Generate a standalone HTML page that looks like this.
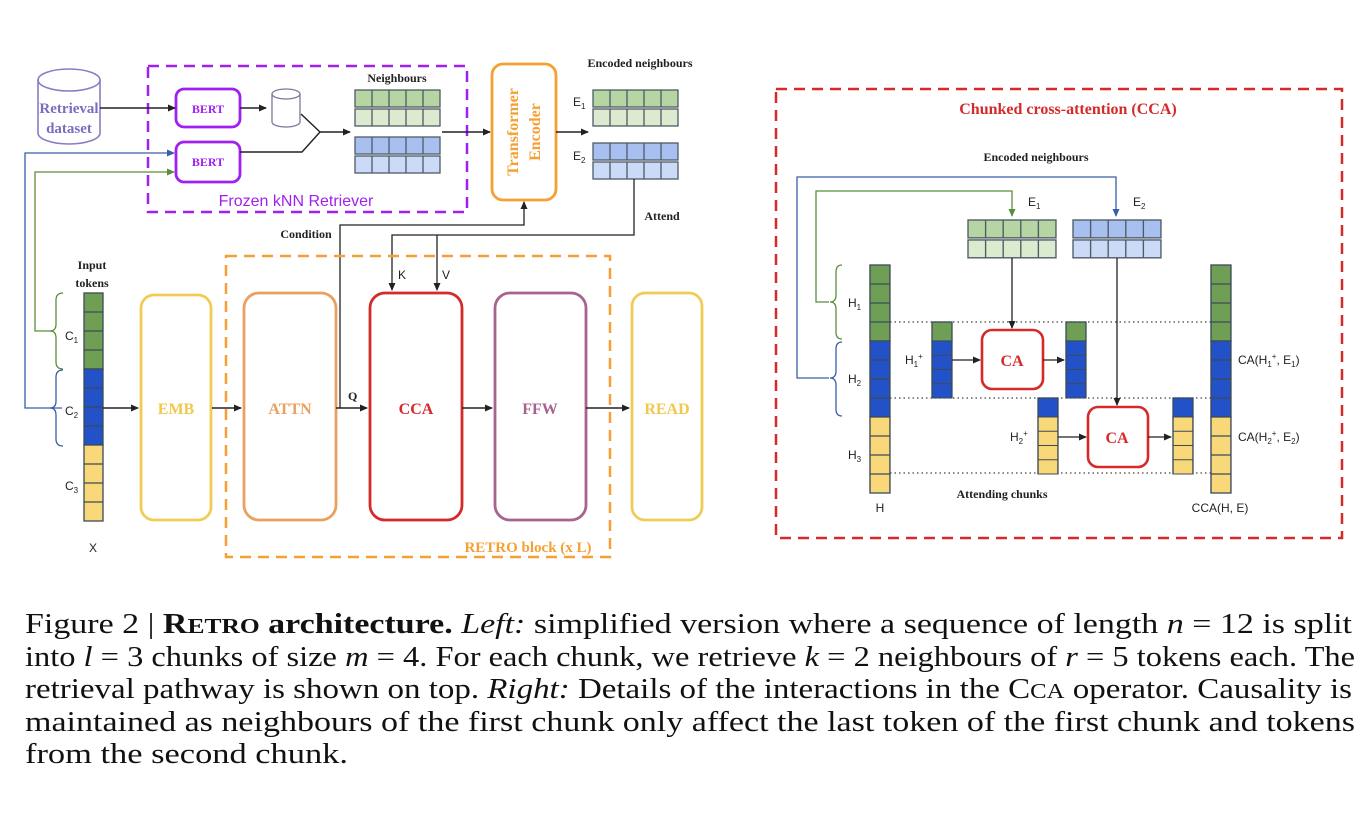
<!DOCTYPE html>
<html><head><meta charset="utf-8">
<style>
html,body{margin:0;padding:0;background:#fff;}
svg{display:block;}
.s{font-family:"Liberation Serif",serif;}
.a{font-family:"Liberation Sans",sans-serif;}
</style></head><body>
<svg width="1370" height="816" viewBox="0 0 1370 816" xmlns="http://www.w3.org/2000/svg">
<defs>
<marker id="ar" markerWidth="8" markerHeight="8" refX="7" refY="4" orient="auto" markerUnits="userSpaceOnUse"><path d="M0,0.5 L8,4 L0,7.5 z" fill="#222"/></marker>
<marker id="ab" markerWidth="8" markerHeight="8" refX="7" refY="4" orient="auto" markerUnits="userSpaceOnUse"><path d="M0,0.5 L8,4 L0,7.5 z" fill="#3a5fa8"/></marker>
<marker id="ag" markerWidth="8" markerHeight="8" refX="7" refY="4" orient="auto" markerUnits="userSpaceOnUse"><path d="M0,0.5 L8,4 L0,7.5 z" fill="#5a8f3a"/></marker>
<g id="gg">
<rect x="0" y="0" width="85" height="17" fill="#b7d4a3" stroke="#4e5a66" stroke-width="1.3"/>
<rect x="0" y="19" width="85" height="17" fill="#dceacf" stroke="#4e5a66" stroke-width="1.3"/>
<path d="M17,0V17M34,0V17M51,0V17M68,0V17M17,19V36M34,19V36M51,19V36M68,19V36" stroke="#4e5a66" stroke-width="1.3"/>
</g>
<g id="gb">
<rect x="0" y="0" width="85" height="17" fill="#a8c0ef" stroke="#4e5a66" stroke-width="1.3"/>
<rect x="0" y="19" width="85" height="17" fill="#cbdaf6" stroke="#4e5a66" stroke-width="1.3"/>
<path d="M17,0V17M34,0V17M51,0V17M68,0V17M17,19V36M34,19V36M51,19V36M68,19V36" stroke="#4e5a66" stroke-width="1.3"/>
</g>
<g id="cg"><rect x="0" y="0" width="19" height="76" fill="#6f9f55" stroke="#3c4a58" stroke-width="1.3"/><path d="M0,19H19M0,38H19M0,57H19" stroke="#3c4a58" stroke-width="1.3"/></g>
<g id="cb"><rect x="0" y="0" width="19" height="76" fill="#2352c8" stroke="#3c4a58" stroke-width="1.3"/><path d="M0,19H19M0,38H19M0,57H19" stroke="#3c4a58" stroke-width="1.3"/></g>
<g id="cy"><rect x="0" y="0" width="19" height="76" fill="#f8d878" stroke="#3c4a58" stroke-width="1.3"/><path d="M0,19H19M0,38H19M0,57H19" stroke="#3c4a58" stroke-width="1.3"/></g>
</defs>

<path d="M38,80 V133 A31,11 0 0 0 100,133 V80" fill="#fff" stroke="#8a7cc4" stroke-width="1.6"/>
<ellipse cx="69" cy="80" rx="31" ry="11" fill="#fff" stroke="#8a7cc4" stroke-width="1.6"/>
<text x="69" y="113" class="s" font-size="15" font-weight="bold" fill="#7a6cc0" text-anchor="middle">Retrieval</text>
<text x="69" y="133" class="s" font-size="15" font-weight="bold" fill="#7a6cc0" text-anchor="middle">dataset</text>

<rect x="148" y="66" width="319" height="146" fill="none" stroke="#a020f0" stroke-width="2.5" stroke-dasharray="11,7"/>
<rect x="176" y="89" width="64" height="38" rx="8" fill="#fff" stroke="#a020f0" stroke-width="2.8"/>
<rect x="176" y="142" width="64" height="40" rx="8" fill="#fff" stroke="#a020f0" stroke-width="2.8"/>
<text x="208" y="113" class="s" font-size="12" font-weight="bold" fill="#a020f0" text-anchor="middle">BERT</text>
<text x="208" y="166" class="s" font-size="12" font-weight="bold" fill="#a020f0" text-anchor="middle">BERT</text>
<text x="296" y="206" class="a" font-size="16" fill="#a020f0" text-anchor="middle">Frozen kNN Retriever</text>
<line x1="100" y1="108" x2="175" y2="108" stroke="#222" stroke-width="1.4" marker-end="url(#ar)"/>
<line x1="240" y1="108" x2="266" y2="108" stroke="#222" stroke-width="1.4" marker-end="url(#ar)"/>
<path d="M272,94 V122 A14,5 0 0 0 300,122 V94" fill="#fff" stroke="#7a7a9a" stroke-width="1.3"/>
<ellipse cx="286" cy="94" rx="14" ry="5" fill="#fff" stroke="#7a7a9a" stroke-width="1.3"/>
<path d="M301,114 L320,132 L302,152 L240,152" fill="none" stroke="#222" stroke-width="1.4"/>
<line x1="320" y1="132" x2="350" y2="132" stroke="#222" stroke-width="1.4" marker-end="url(#ar)"/>
<text x="397" y="82" class="s" font-size="12" font-weight="bold" fill="#222" text-anchor="middle">Neighbours</text>
<use href="#gg" x="355" y="90"/>
<use href="#gb" x="355" y="137"/>
<line x1="442" y1="132" x2="490" y2="132" stroke="#222" stroke-width="1.4" marker-end="url(#ar)"/>
<rect x="492" y="64" width="64" height="136" rx="11" fill="#fff" stroke="#f5a033" stroke-width="2.8"/>
<text transform="translate(518,132) rotate(-90)" class="s" font-size="16" font-weight="bold" fill="#f5a033" text-anchor="middle">Transformer</text>
<text transform="translate(540,132) rotate(-90)" class="s" font-size="16" font-weight="bold" fill="#f5a033" text-anchor="middle">Encoder</text>
<line x1="556" y1="132" x2="588" y2="132" stroke="#222" stroke-width="1.4" marker-end="url(#ar)"/>
<text x="640" y="67" class="s" font-size="12" font-weight="bold" fill="#222" text-anchor="middle">Encoded neighbours</text>
<text x="573" y="106" class="a" font-size="12" fill="#222">E<tspan font-size="8" dy="3">1</tspan></text>
<text x="573" y="160" class="a" font-size="12" fill="#222">E<tspan font-size="8" dy="3">2</tspan></text>
<use href="#gg" x="593" y="90"/>
<use href="#gb" x="593" y="143"/>
<path d="M634,179 V235 H392 V290" fill="none" stroke="#222" stroke-width="1.3" marker-end="url(#ar)"/>
<line x1="437" y1="235" x2="437" y2="290" stroke="#222" stroke-width="1.3" marker-end="url(#ar)"/>
<text x="662" y="220" class="s" font-size="12" font-weight="bold" fill="#222" text-anchor="middle">Attend</text>
<text x="398" y="279" class="a" font-size="12" fill="#222">K</text>
<text x="442" y="279" class="a" font-size="12" fill="#222">V</text>
<path d="M340,408 V225 H524 V202" fill="none" stroke="#222" stroke-width="1.3" marker-end="url(#ar)"/>
<text x="306" y="238" class="s" font-size="12" font-weight="bold" fill="#222" text-anchor="middle">Condition</text>
<text x="348" y="400" class="s" font-size="12" font-weight="bold" fill="#222">Q</text>

<path d="M62,408 H25 V153 H174" fill="none" stroke="#3a5fa8" stroke-width="1.3" marker-end="url(#ab)"/>
<path d="M52,331 H35 V172 H174" fill="none" stroke="#5a8f3a" stroke-width="1.3" marker-end="url(#ag)"/>
<path d="M63,293 Q56,293 56,300 L56,324 Q56,331 50,331 Q56,331 56,338 L56,362 Q56,369 63,369" fill="none" stroke="#5a8f3a" stroke-width="1.3"/>
<path d="M63,370 Q56,370 56,377 L56,401 Q56,408 50,408 Q56,408 56,415 L56,439 Q56,446 63,446" fill="none" stroke="#3a5fa8" stroke-width="1.3"/>
<text x="92" y="269" class="s" font-size="12" font-weight="bold" fill="#222" text-anchor="middle">Input</text>
<text x="92" y="287" class="s" font-size="12" font-weight="bold" fill="#222" text-anchor="middle">tokens</text>
<use href="#cg" x="84" y="293"/>
<use href="#cb" x="84" y="369"/>
<use href="#cy" x="84" y="445"/>
<text x="65" y="340" class="a" font-size="12" fill="#222">C<tspan font-size="8" dy="3">1</tspan></text>
<text x="65" y="415" class="a" font-size="12" fill="#222">C<tspan font-size="8" dy="3">2</tspan></text>
<text x="65" y="490" class="a" font-size="12" fill="#222">C<tspan font-size="8" dy="3">3</tspan></text>
<text x="93" y="552" class="a" font-size="12" fill="#222" text-anchor="middle">X</text>

<rect x="226" y="256" width="384" height="301" fill="none" stroke="#f5a033" stroke-width="2.5" stroke-dasharray="11,7"/>
<text x="528" y="552" class="s" font-size="15" font-weight="bold" fill="#f5a033" text-anchor="middle">RETRO block (x L)</text>

<rect x="141" y="295" width="70" height="225" rx="13" fill="#fff" stroke="#f1cc55" stroke-width="2.8"/>
<rect x="244" y="293" width="92" height="227" rx="15" fill="#fff" stroke="#e9a060" stroke-width="2.8"/>
<rect x="370" y="293" width="92" height="227" rx="15" fill="#fff" stroke="#d42a2a" stroke-width="2.8"/>
<rect x="495" y="293" width="91" height="227" rx="15" fill="#fff" stroke="#a8628e" stroke-width="2.8"/>
<rect x="632" y="293" width="70" height="227" rx="13" fill="#fff" stroke="#f1cc55" stroke-width="2.8"/>
<text x="176" y="414" class="s" font-size="16" font-weight="bold" fill="#f1c84b" text-anchor="middle">EMB</text>
<text x="290" y="414" class="s" font-size="16" font-weight="bold" fill="#e9a060" text-anchor="middle">ATTN</text>
<text x="416" y="414" class="s" font-size="16" font-weight="bold" fill="#d42a2a" text-anchor="middle">CCA</text>
<text x="540" y="414" class="s" font-size="16" font-weight="bold" fill="#a8628e" text-anchor="middle">FFW</text>
<text x="667" y="414" class="s" font-size="16" font-weight="bold" fill="#f1c84b" text-anchor="middle">READ</text>
<line x1="103" y1="408" x2="138" y2="408" stroke="#222" stroke-width="1.4" marker-end="url(#ar)"/>
<line x1="212" y1="408" x2="241" y2="408" stroke="#222" stroke-width="1.4" marker-end="url(#ar)"/>
<line x1="336" y1="408" x2="367" y2="408" stroke="#222" stroke-width="1.4" marker-end="url(#ar)"/>
<line x1="462" y1="408" x2="492" y2="408" stroke="#222" stroke-width="1.4" marker-end="url(#ar)"/>
<line x1="586" y1="408" x2="629" y2="408" stroke="#222" stroke-width="1.4" marker-end="url(#ar)"/>

<rect x="776" y="89" width="566" height="449" fill="none" stroke="#d42a2a" stroke-width="2.5" stroke-dasharray="11,7"/>
<text x="1068" y="114" class="s" font-size="16" font-weight="bold" fill="#d42a2a" text-anchor="middle">Chunked cross-attention (CCA)</text>
<text x="1036" y="161" class="s" font-size="12" font-weight="bold" fill="#222" text-anchor="middle">Encoded neighbours</text>
<path d="M829,378 H797 V177 H1116 V216" fill="none" stroke="#3a5fa8" stroke-width="1.3" marker-end="url(#ab)"/>
<path d="M829,302 H816 V191 H1012 V216" fill="none" stroke="#5a8f3a" stroke-width="1.3" marker-end="url(#ag)"/>
<text x="1028" y="206" class="a" font-size="12" fill="#222">E<tspan font-size="8" dy="3">1</tspan></text>
<text x="1133" y="206" class="a" font-size="12" fill="#222">E<tspan font-size="8" dy="3">2</tspan></text>
<use href="#gg" transform="translate(968,220) scale(1.035,1.05)"/>
<use href="#gb" transform="translate(1073,220) scale(1.035,1.05)"/>
<path d="M890,322 H1211 M890,398 H1211 M890,473 H1211" stroke="#444" stroke-width="1.2" stroke-dasharray="1.5,3"/>
<path d="M842,265 Q836,265 836,272 L836,295 Q836,302 830,302 Q836,302 836,309 L836,332 Q836,339 842,339" fill="none" stroke="#5a8f3a" stroke-width="1.3"/>
<path d="M842,342 Q836,342 836,349 L836,371 Q836,378 830,378 Q836,378 836,385 L836,409 Q836,416 842,416" fill="none" stroke="#3a5fa8" stroke-width="1.3"/>
<use href="#cg" transform="translate(870,265) scale(1.05,1)"/>
<use href="#cb" transform="translate(870,341) scale(1.05,1)"/>
<use href="#cy" transform="translate(870,417) scale(1.05,1)"/>
<use href="#cg" transform="translate(1211,265) scale(1.05,1)"/>
<use href="#cb" transform="translate(1211,341) scale(1.05,1)"/>
<use href="#cy" transform="translate(1211,417) scale(1.05,1)"/>
<text x="848" y="307" class="a" font-size="12" fill="#222">H<tspan font-size="8" dy="3">1</tspan></text>
<text x="848" y="383" class="a" font-size="12" fill="#222">H<tspan font-size="8" dy="3">2</tspan></text>
<text x="848" y="459" class="a" font-size="12" fill="#222">H<tspan font-size="8" dy="3">3</tspan></text>
<text x="880" y="512" class="a" font-size="12" fill="#222" text-anchor="middle">H</text>
<text x="1220" y="512" class="a" font-size="12" fill="#222" text-anchor="middle">CCA(H, E)</text>
<text x="1002" y="498" class="s" font-size="12" font-weight="bold" fill="#222" text-anchor="middle">Attending chunks</text>
<rect x="932" y="322" width="20" height="19" fill="#6f9f55" stroke="#3c4a58" stroke-width="1.3"/>
<use href="#cb" transform="translate(932,341) scale(1.05,0.75)"/>
<rect x="1066" y="322" width="20" height="19" fill="#6f9f55" stroke="#3c4a58" stroke-width="1.3"/>
<use href="#cb" transform="translate(1066,341) scale(1.05,0.75)"/>
<rect x="982" y="330" width="61" height="59" rx="10" fill="#fff" stroke="#d42a2a" stroke-width="2.6"/>
<text x="1012" y="366" class="s" font-size="16" font-weight="bold" fill="#d42a2a" text-anchor="middle">CA</text>
<line x1="952" y1="360" x2="980" y2="360" stroke="#222" stroke-width="1.3" marker-end="url(#ar)"/>
<line x1="1043" y1="360" x2="1064" y2="360" stroke="#222" stroke-width="1.3" marker-end="url(#ar)"/>
<line x1="1012" y1="258" x2="1012" y2="328" stroke="#222" stroke-width="1.3" marker-end="url(#ar)"/>
<text x="905" y="364" class="a" font-size="12" fill="#222">H<tspan font-size="8" dy="3">1</tspan><tspan font-size="8" dy="-8">+</tspan></text>
<rect x="1038" y="398" width="20" height="19" fill="#2352c8" stroke="#3c4a58" stroke-width="1.3"/>
<use href="#cy" transform="translate(1038,417) scale(1.05,0.75)"/>
<rect x="1173" y="398" width="20" height="19" fill="#2352c8" stroke="#3c4a58" stroke-width="1.3"/>
<use href="#cy" transform="translate(1173,417) scale(1.05,0.75)"/>
<rect x="1088" y="407" width="60" height="60" rx="10" fill="#fff" stroke="#d42a2a" stroke-width="2.6"/>
<text x="1117" y="443" class="s" font-size="16" font-weight="bold" fill="#d42a2a" text-anchor="middle">CA</text>
<line x1="1058" y1="437" x2="1086" y2="437" stroke="#222" stroke-width="1.3" marker-end="url(#ar)"/>
<line x1="1148" y1="437" x2="1171" y2="437" stroke="#222" stroke-width="1.3" marker-end="url(#ar)"/>
<line x1="1117" y1="258" x2="1117" y2="405" stroke="#222" stroke-width="1.3" marker-end="url(#ar)"/>
<text x="1010" y="441" class="a" font-size="12" fill="#222">H<tspan font-size="8" dy="3">2</tspan><tspan font-size="8" dy="-8">+</tspan></text>
<text x="1238" y="364" class="a" font-size="12" fill="#222">CA(H<tspan font-size="8" dy="3">1</tspan><tspan font-size="8" dy="-8">+</tspan><tspan dy="5">, E</tspan><tspan font-size="8" dy="3">1</tspan><tspan dy="-3">)</tspan></text>
<text x="1238" y="441" class="a" font-size="12" fill="#222">CA(H<tspan font-size="8" dy="3">2</tspan><tspan font-size="8" dy="-8">+</tspan><tspan dy="5">, E</tspan><tspan font-size="8" dy="3">2</tspan><tspan dy="-3">)</tspan></text>

<g class="s" font-size="28" fill="#111">
<text x="25" y="633" textLength="1327" lengthAdjust="spacingAndGlyphs">Figure 2 | <tspan font-weight="bold">R<tspan font-size="21">ETRO</tspan> architecture.</tspan> <tspan font-style="italic">Left:</tspan> simplified version where a sequence of length <tspan font-style="italic">n</tspan> = 12 is split</text>
<text x="25" y="666" textLength="1330" lengthAdjust="spacingAndGlyphs">into <tspan font-style="italic">l</tspan> = 3 chunks of size <tspan font-style="italic">m</tspan> = 4. For each chunk, we retrieve <tspan font-style="italic">k</tspan> = 2 neighbours of <tspan font-style="italic">r</tspan> = 5 tokens each. The</text>
<text x="25" y="698" textLength="1327" lengthAdjust="spacingAndGlyphs">retrieval pathway is shown on top. <tspan font-style="italic">Right:</tspan> Details of the interactions in the C<tspan font-size="21">CA</tspan> operator. Causality is</text>
<text x="25" y="731" textLength="1330" lengthAdjust="spacingAndGlyphs">maintained as neighbours of the first chunk only affect the last token of the first chunk and tokens</text>
<text x="25" y="763" textLength="323" lengthAdjust="spacingAndGlyphs">from the second chunk.</text>
</g>
</svg>
</body></html>
